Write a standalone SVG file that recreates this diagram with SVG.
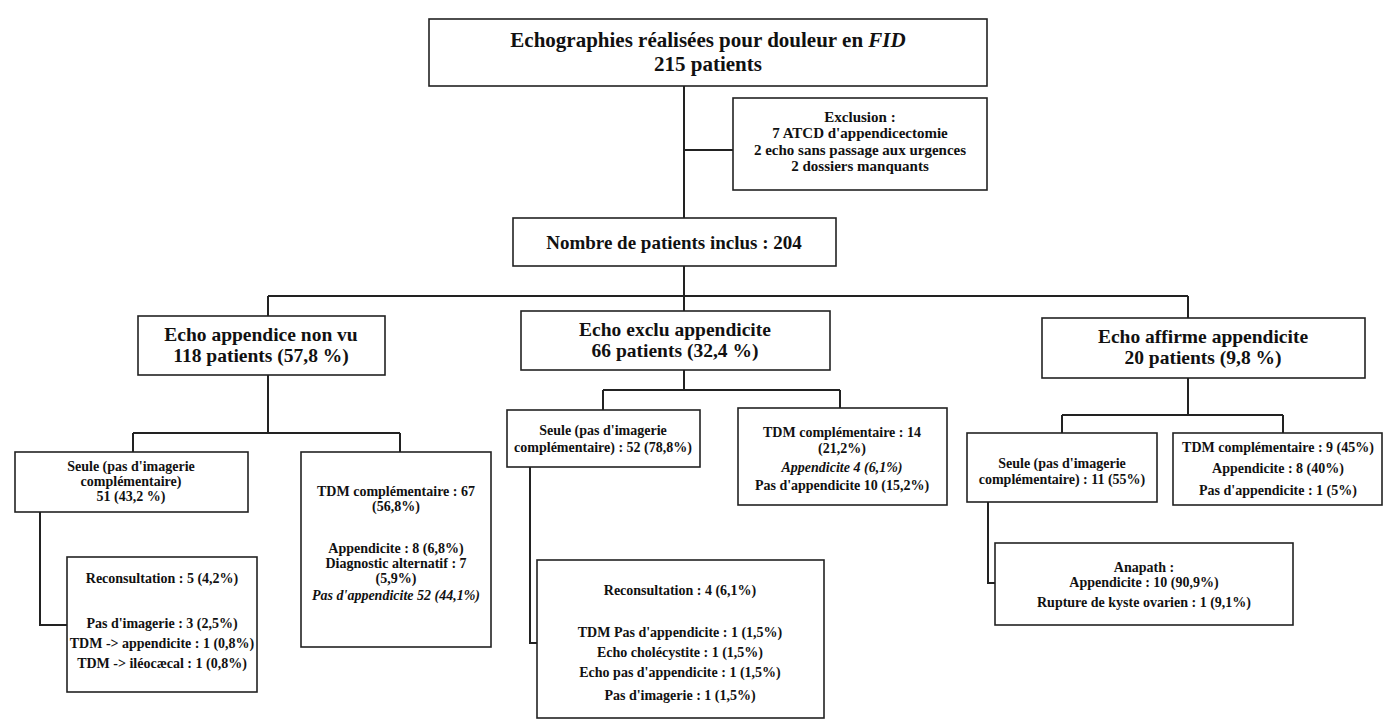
<svg xmlns="http://www.w3.org/2000/svg" width="1390" height="722" viewBox="0 0 1390 722">
<style>
text{font-family:"Liberation Serif","DejaVu Serif",serif;font-weight:bold;fill:#111;text-anchor:middle}
.b{fill:#fff;stroke:#222;stroke-width:1.6}
.c{fill:none;stroke:#222;stroke-width:2}
.xl{font-size:21px}
.h{font-size:19.5px}
.l{font-size:19px}
.s{font-size:14px}
.t{font-size:15px}
.i{font-style:italic}
</style>
<rect width="1390" height="722" fill="#fff"/>
<g id="connectors">
<path class="c" d="M684 86V218M684 150H733M684 266V296M268 296H1188M268 296V316M684 296V311M1188 296V318"/>
<path class="c" d="M268 375V433M133 433H400M133 433V452M400 433V452"/>
<path class="c" d="M684 370V390M603 390H840M603 390V410M840 390V408"/>
<path class="c" d="M1188 378V415M1062 415H1283M1062 415V433M1283 415V433"/>
<path class="c" d="M40 512V625H67"/>
<path class="c" d="M530 467V643H537"/>
<path class="c" d="M988 502V583H995"/>
</g>
<g id="n_top"><rect class="b" x="429" y="19" width="558" height="67"/>
<text class="xl" x="708" y="47">Echographies réalisées pour douleur en <tspan class="i">FID</tspan></text>
<text class="xl" x="708" y="71">215 patients</text></g>
<g id="n_excl"><rect class="b" x="733" y="98" width="254" height="92"/>
<text class="t" x="860" y="122">Exclusion :</text>
<text class="t" x="860" y="138">7 ATCD d'appendicectomie</text>
<text class="t" x="860" y="155">2 echo sans passage aux urgences</text>
<text class="t" x="860" y="171">2 dossiers manquants</text></g>
<g id="n_incl"><rect class="b" x="513" y="218" width="323" height="48"/>
<text class="l" x="674" y="249">Nombre de patients inclus : 204</text></g>
<g id="n_nonvu"><rect class="b" x="138" y="316" width="247" height="59"/>
<text class="h" x="261" y="341">Echo appendice non vu</text>
<text class="h" x="261" y="362">118 patients (57,8 %)</text></g>
<g id="n_exclu"><rect class="b" x="521" y="311" width="309" height="59"/>
<text class="h" x="675" y="336">Echo exclu appendicite</text>
<text class="h" x="675" y="357">66 patients (32,4 %)</text></g>
<g id="n_affirme"><rect class="b" x="1042" y="318" width="323" height="60"/>
<text class="h" x="1203" y="343">Echo affirme appendicite</text>
<text class="h" x="1203" y="364">20 patients (9,8 %)</text></g>
<g id="n_l1"><rect class="b" x="15" y="452" width="233" height="60"/>
<text class="s" x="131" y="471">Seule (pas d'imagerie</text>
<text class="s" x="131" y="486">complémentaire)</text>
<text class="s" x="131" y="501">51 (43,2 %)</text></g>
<g id="n_l2"><rect class="b" x="301" y="452" width="190" height="195"/>
<text class="s" x="396" y="496">TDM complémentaire : 67</text>
<text class="s" x="396" y="511">(56,8%)</text>
<text class="s" x="396" y="553">Appendicite : 8 (6,8%)</text>
<text class="s" x="396" y="568">Diagnostic alternatif : 7</text>
<text class="s" x="396" y="583">(5,9%)</text>
<text class="s i" x="396" y="600">Pas d'appendicite 52 (44,1%)</text></g>
<g id="n_l3"><rect class="b" x="67" y="557" width="190" height="135"/>
<text class="s" x="162" y="583">Reconsultation : 5 (4,2%)</text>
<text class="s" x="162" y="628">Pas d'imagerie : 3 (2,5%)</text>
<text class="s" x="162" y="648">TDM -&gt; appendicite : 1 (0,8%)</text>
<text class="s" x="162" y="668">TDM -&gt; iléocæcal : 1 (0,8%)</text></g>
<g id="n_m1"><rect class="b" x="507" y="410" width="193" height="57"/>
<text class="s" x="603" y="435">Seule (pas d'imagerie</text>
<text class="s" x="603" y="452">complémentaire) : 52 (78,8%)</text></g>
<g id="n_m2"><rect class="b" x="738" y="408" width="209" height="97"/>
<text class="s" x="842" y="437">TDM complémentaire : 14</text>
<text class="s" x="842" y="453">(21,2%)</text>
<text class="s i" x="842" y="472">Appendicite 4 (6,1%)</text>
<text class="s" x="842" y="490">Pas d'appendicite 10 (15,2%)</text></g>
<g id="n_m3"><rect class="b" x="537" y="560" width="287" height="158"/>
<text class="s" x="680" y="595">Reconsultation : 4 (6,1%)</text>
<text class="s" x="680" y="637">TDM Pas d'appendicite : 1 (1,5%)</text>
<text class="s" x="680" y="657">Echo cholécystite : 1 (1,5%)</text>
<text class="s" x="680" y="677">Echo pas d'appendicite : 1 (1,5%)</text>
<text class="s" x="680" y="700">Pas d'imagerie : 1 (1,5%)</text></g>
<g id="n_r1"><rect class="b" x="967" y="433" width="190" height="69"/>
<text class="s" x="1062" y="468">Seule (pas d'imagerie</text>
<text class="s" x="1062" y="484">complémentaire) : 11 (55%)</text></g>
<g id="n_r2"><rect class="b" x="1173" y="433" width="209" height="72"/>
<text class="s" x="1278" y="452">TDM complémentaire : 9 (45%)</text>
<text class="s" x="1278" y="473">Appendicite : 8 (40%)</text>
<text class="s" x="1278" y="495">Pas d'appendicite : 1 (5%)</text></g>
<g id="n_r3"><rect class="b" x="995" y="543" width="298" height="82"/>
<text class="s" x="1144" y="572">Anapath :</text>
<text class="s" x="1144" y="587">Appendicite : 10 (90,9%)</text>
<text class="s" x="1144" y="607">Rupture de kyste ovarien : 1 (9,1%)</text></g>
</svg>
